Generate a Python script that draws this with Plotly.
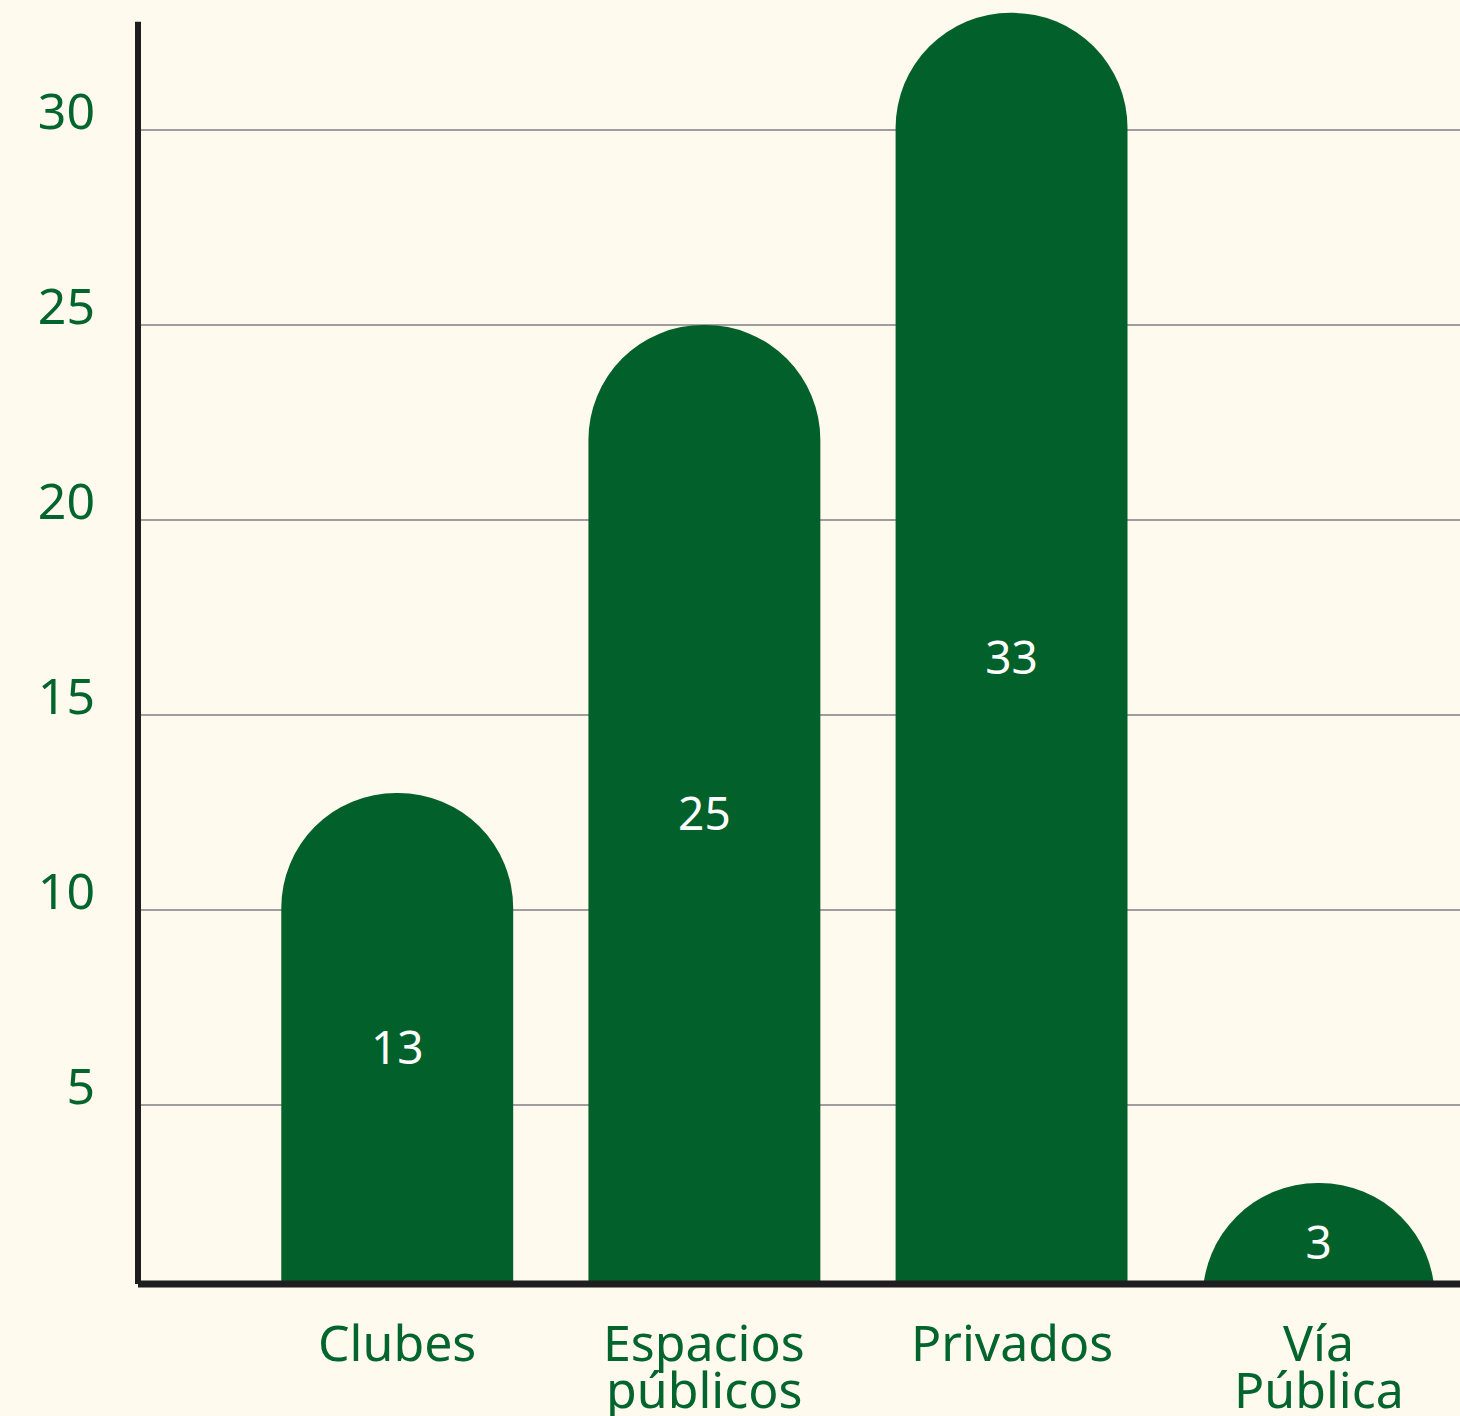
import plotly.graph_objects as go

categories = ["Clubes", "Espacios públicos", "Privados", "Vía Pública"]
label_lines = [["Clubes"], ["Espacios", "públicos"], ["Privados"], ["Vía", "Pública"]]
values = [13, 25, 33, 3]
y_ticks = [5, 10, 15, 20, 25, 30]

BG = "#FFF9EE"
BAR = "#02602A"
TXT = "#03652E"
AX = "#1E1E1E"
FONT = "Noto Sans"

fig = go.Figure(go.Bar(
    x=categories, y=values,
    text=[str(v) for v in values],
    textposition="inside", insidetextanchor="middle", textangle=0,
    textfont=dict(family=FONT, size=46, color="white"),
    marker=dict(color=BAR, cornerradius="50%", line=dict(width=0)),
    hoverinfo="skip",
))

ann = []
for i, lines in enumerate(label_lines):
    for j, ln in enumerate(lines):
        ann.append(dict(x=categories[i], xref="x", y=0, yref="paper",
                        yanchor="middle", yshift=-58 - 47 * j, text=ln, showarrow=False,
                        font=dict(family=FONT, size=50, color=TXT)))

fig.update_layout(
    width=1460, height=1416,
    margin=dict(l=138, r=0, t=0, b=132),
    paper_bgcolor=BG, plot_bgcolor=BG,
    bargap=0.245,
    showlegend=False,
    annotations=ann,
    uniformtext=dict(minsize=46, mode="show"),
    xaxis=dict(range=[-0.844, 3.46], showticklabels=False, showgrid=False,
               zeroline=False, showline=False, ticks=""),
    yaxis=dict(range=[0.41, 33.33], tickvals=y_ticks, ticktext=[str(t) for t in y_ticks],
               showgrid=True, gridcolor="#9E9E9E", gridwidth=1.5, zeroline=False,
               showline=False, ticks="", ticklabelstandoff=42, ticklabelshift=-18,
               tickfont=dict(family=FONT, size=50, color=TXT)),
    shapes=[
        dict(type="line", xref="paper", yref="paper", x0=0, x1=1, y0=0, y1=0,
             line=dict(color=AX, width=7), layer="above"),
        dict(type="line", xref="paper", yref="y", x0=0, x1=0, y0=0.41, y1=32.77,
             line=dict(color=AX, width=6), layer="above"),
    ],
)

fig.write_html(
    "out.html",
    config={"displayModeBar": False},
    post_script="document.body.style.margin='0';document.body.style.background='#FFF9EE';",
)
